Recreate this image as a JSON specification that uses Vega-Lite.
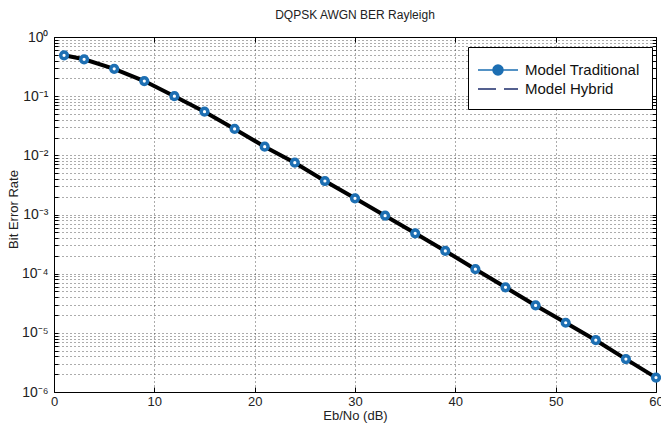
{
  "$schema": "https://vega.github.io/schema/vega-lite/v6.json",
  "width": 602,
  "height": 355,
  "autosize": {"type": "none"},
  "padding": {"left": 54, "top": 37, "right": 5, "bottom": 34},
  "background": "white",
  "title": {"text": "DQPSK AWGN BER Rayleigh", "fontSize": 12, "fontWeight": "normal", "font": "Liberation Sans", "color": "#222", "offset": 8},
  "config": {
    "view": {"stroke": null},
    "axis": {"labelFont": "Liberation Sans", "titleFont": "Liberation Sans", "labelFontSize": 13, "titleFontSize": 13, "titleFontWeight": "normal", "labelColor": "#222", "titleColor": "#222", "domainColor": "#000", "tickColor": "#000", "gridColor": "#222", "gridDash": [1, 3], "gridOpacity": 0.75}
  },
  "data": {"values": [
    {"x": 1, "ber": 0.49, "series": "Model Traditional"},
    {"x": 3, "ber": 0.42, "series": "Model Traditional"},
    {"x": 6, "ber": 0.29, "series": "Model Traditional"},
    {"x": 9, "ber": 0.18, "series": "Model Traditional"},
    {"x": 12, "ber": 0.10, "series": "Model Traditional"},
    {"x": 15, "ber": 0.0547, "series": "Model Traditional"},
    {"x": 18, "ber": 0.0279, "series": "Model Traditional"},
    {"x": 21, "ber": 0.0140, "series": "Model Traditional"},
    {"x": 24, "ber": 0.00751, "series": "Model Traditional"},
    {"x": 27, "ber": 0.00368, "series": "Model Traditional"},
    {"x": 30, "ber": 0.00188, "series": "Model Traditional"},
    {"x": 33, "ber": 0.000955, "series": "Model Traditional"},
    {"x": 36, "ber": 0.000481, "series": "Model Traditional"},
    {"x": 39, "ber": 0.000242, "series": "Model Traditional"},
    {"x": 42, "ber": 0.000119, "series": "Model Traditional"},
    {"x": 45, "ber": 0.0000588, "series": "Model Traditional"},
    {"x": 48, "ber": 0.000029, "series": "Model Traditional"},
    {"x": 51, "ber": 0.0000148, "series": "Model Traditional"},
    {"x": 54, "ber": 0.0000075, "series": "Model Traditional"},
    {"x": 57, "ber": 0.0000036, "series": "Model Traditional"},
    {"x": 60, "ber": 0.00000175, "series": "Model Traditional"},
    {"x": 1, "ber": 0.49, "series": "Model Hybrid"},
    {"x": 3, "ber": 0.42, "series": "Model Hybrid"},
    {"x": 6, "ber": 0.29, "series": "Model Hybrid"},
    {"x": 9, "ber": 0.18, "series": "Model Hybrid"},
    {"x": 12, "ber": 0.10, "series": "Model Hybrid"},
    {"x": 15, "ber": 0.0547, "series": "Model Hybrid"},
    {"x": 18, "ber": 0.0279, "series": "Model Hybrid"},
    {"x": 21, "ber": 0.0140, "series": "Model Hybrid"},
    {"x": 24, "ber": 0.00751, "series": "Model Hybrid"},
    {"x": 27, "ber": 0.00368, "series": "Model Hybrid"},
    {"x": 30, "ber": 0.00188, "series": "Model Hybrid"},
    {"x": 33, "ber": 0.000955, "series": "Model Hybrid"},
    {"x": 36, "ber": 0.000481, "series": "Model Hybrid"},
    {"x": 39, "ber": 0.000242, "series": "Model Hybrid"},
    {"x": 42, "ber": 0.000119, "series": "Model Hybrid"},
    {"x": 45, "ber": 0.0000588, "series": "Model Hybrid"},
    {"x": 48, "ber": 0.000029, "series": "Model Hybrid"},
    {"x": 51, "ber": 0.0000148, "series": "Model Hybrid"},
    {"x": 54, "ber": 0.0000075, "series": "Model Hybrid"},
    {"x": 57, "ber": 0.0000036, "series": "Model Hybrid"},
    {"x": 60, "ber": 0.00000175, "series": "Model Hybrid"}
  ]},
  "resolve": {"axis": {"x": "independent", "y": "independent"}},
  "layer": [
    {
      "mark": {"type": "point", "opacity": 0, "size": 400, "filled": true},
      "encoding": {
        "x": {"field": "x", "type": "quantitative", "scale": {"domain": [0, 60], "nice": false},
          "axis": {"orient": "bottom", "values": [0, 10, 20, 30, 40, 50, 60], "grid": true, "tickSize": -5, "labelPadding": 8, "labelFlush": false, "title": "Eb/No (dB)", "titlePadding": 1}},
        "y": {"field": "ber", "type": "quantitative", "scale": {"type": "log", "domain": [0.000001, 1], "nice": false},
          "axis": {"orient": "left",
            "values": [0.000001, 0.000002, 0.000003, 0.000004, 0.000005, 0.000006, 0.000007, 0.000008, 0.000009, 0.00001, 0.00002, 0.00003, 0.00004, 0.00005, 0.00006, 0.00007, 0.00008, 0.00009, 0.0001, 0.0002, 0.0003, 0.0004, 0.0005, 0.0006, 0.0007, 0.0008, 0.0009, 0.001, 0.002, 0.003, 0.004, 0.005, 0.006, 0.007, 0.008, 0.009, 0.01, 0.02, 0.03, 0.04, 0.05, 0.06, 0.07, 0.08, 0.09, 0.1, 0.2, 0.3, 0.4, 0.5, 0.6, 0.7, 0.8, 0.9, 1],
            "grid": true, "tickSize": -4, "labelOverlap": false, "labelFlush": false, "labelPadding": 10, "labelFontSize": 14,
            "labelExpr": "abs(datum.value / pow(10, round(log(datum.value) / LN10)) - 1) < 0.001 ? ['10⁰','10⁻¹','10⁻²','10⁻³','10⁻⁴','10⁻⁵','10⁻⁶'][-round(log(datum.value) / LN10)] : ''",
            "title": "Bit Error Rate", "titleX": -41, "titleY": 172, "titleAngle": -90, "titleAlign": "center", "titleBaseline": "middle"}},
        "shape": {"field": "series", "type": "nominal",
          "scale": {"domain": ["Model Traditional", "Model Hybrid"], "range": ["M-2,0H2M-0.5,0A0.5,0.5 0 1,1 0.5,0A0.5,0.5 0 1,1 -0.5,0Z", "M-2,0H-0.2M0.6,0H2"]},
          "legend": {"title": null, "orient": "none", "legendX": 414, "legendY": 10, "fillColor": "white", "strokeColor": "#000", "padding": 12, "symbolSize": 400, "symbolStrokeWidth": 1.5, "symbolOffset": 7, "labelOffset": 16, "labelFontSize": 15, "labelFont": "Liberation Sans", "labelColor": "#111", "rowPadding": 0, "symbolOpacity": 1}},
        "fill": {"field": "series", "type": "nominal", "scale": {"domain": ["Model Traditional", "Model Hybrid"], "range": ["#1d6fb3", "transparent"]}, "legend": {"title": null}},
        "stroke": {"field": "series", "type": "nominal", "scale": {"domain": ["Model Traditional", "Model Hybrid"], "range": ["#1d6fb3", "#1c2d6b"]}, "legend": {"title": null}}
      }
    },
    {
      "transform": [{"filter": "datum.series === 'Model Hybrid'"}],
      "mark": {"type": "line", "color": "#000", "strokeWidth": 4},
      "encoding": {
        "x": {"field": "x", "type": "quantitative", "axis": {"orient": "top", "values": [0, 10, 20, 30, 40, 50, 60], "labels": false, "tickSize": -5, "title": null, "grid": false}},
        "y": {"field": "ber", "type": "quantitative", "axis": {"orient": "right",
            "values": [0.000001, 0.000002, 0.000003, 0.000004, 0.000005, 0.000006, 0.000007, 0.000008, 0.000009, 0.00001, 0.00002, 0.00003, 0.00004, 0.00005, 0.00006, 0.00007, 0.00008, 0.00009, 0.0001, 0.0002, 0.0003, 0.0004, 0.0005, 0.0006, 0.0007, 0.0008, 0.0009, 0.001, 0.002, 0.003, 0.004, 0.005, 0.006, 0.007, 0.008, 0.009, 0.01, 0.02, 0.03, 0.04, 0.05, 0.06, 0.07, 0.08, 0.09, 0.1, 0.2, 0.3, 0.4, 0.5, 0.6, 0.7, 0.8, 0.9, 1],
            "labels": false, "tickSize": -4, "title": null, "grid": false}}
      }
    },
    {
      "transform": [{"filter": "datum.series === 'Model Traditional'"}],
      "mark": {"type": "point", "filled": true, "fill": "white", "stroke": "#1d6fb3", "strokeWidth": 3.5, "size": 45, "opacity": 1},
      "encoding": {
        "x": {"field": "x", "type": "quantitative", "axis": null},
        "y": {"field": "ber", "type": "quantitative", "axis": null}
      }
    }
  ]
}
